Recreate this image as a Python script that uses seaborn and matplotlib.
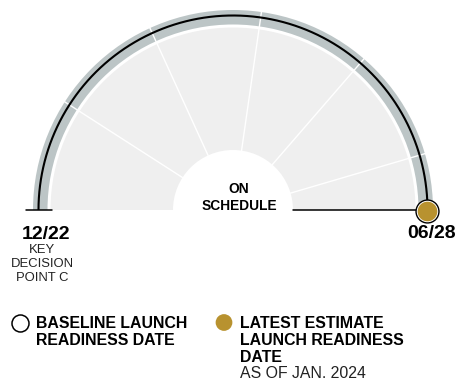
import numpy as np
import pandas as pd
import matplotlib
matplotlib.use("Agg")
import matplotlib.pyplot as plt
from matplotlib.patches import Wedge
import seaborn as sns

# Schedule milestones (year-month)
start_date = "2022-12"
baseline_date = "2028-06"
estimate_date = "2028-06"
year_marks = ["2023-12", "2024-12", "2025-12", "2026-12", "2027-12"]

start_label = "12/22"
start_caption = ["KEY", "DECISION", "POINT C"]
end_label = "06/28"
status_lines = ["ON", "SCHEDULE"]
legend_baseline = ["BASELINE LAUNCH", "READINESS DATE"]
legend_estimate = ["LATEST ESTIMATE", "LAUNCH READINESS", "DATE"]
legend_note = "AS OF JAN. 2024"

GOLD = "#B8922F"
BAND = "#BCC5C6"
FILL = "#EFEFEF"

sns.set_theme(style="white")
plt.rcParams["font.family"] = ["Liberation Sans", "DejaVu Sans"]


def months_from_start(d):
    return (pd.Period(d, "M") - pd.Period(start_date, "M")).n


span = months_from_start(baseline_date)


def angle(d):
    """Gauge angle in degrees: start at 180, baseline at 0."""
    return 180.0 * (1 - months_from_start(d) / span)


def polar(r, deg):
    t = np.deg2rad(deg)
    return r * np.cos(t), r * np.sin(t)


# gauge radii
R_OUT, BAND_W = 200, 14.5
R_FILL, R_HOLE = 182.5, 60
R_LINE = 194.5

W, H = 456, 383
fig = plt.figure(figsize=(W / 100, H / 100), dpi=100)
ax = fig.add_axes([0, 0, 1, 1])
ax.set_xlim(-233, W - 233)
ax.set_ylim(210 - H, 210)
ax.set_aspect("equal")
ax.axis("off")

a0, a1 = angle(start_date), angle(baseline_date)

# outer band and inner filled sector
ax.add_patch(Wedge((0, 0), R_OUT, a1, a0, width=BAND_W, color=BAND, lw=0, zorder=1))
ax.add_patch(Wedge((0, 0), R_FILL, a1, a0, width=R_FILL - R_HOLE, color=FILL, lw=0, zorder=1))

# yearly dividers
for d in year_marks:
    a = angle(d)
    x0, y0 = polar(R_HOLE, a)
    x1, y1 = polar(R_OUT + 1, a)
    ax.plot([x0, x1], [y0, y1], color="white", lw=1.0, zorder=2)

# baseline schedule arc
arc_t = np.linspace(a0, a1, 200)
ax.plot(*polar(R_LINE, arc_t), color="black", lw=1.5, zorder=3, solid_capstyle="butt")

# start tick
ax.plot(*polar(np.array([R_FILL - 1, R_OUT + 7]), a0), color="black", lw=1.1, zorder=3)

# pointer to latest estimate
ae = angle(estimate_date)
ax.plot(*polar(np.array([R_HOLE, R_LINE]), ae), color="black", lw=1.1, zorder=3)

ex, ey = polar(R_LINE, ae)
ey -= 1.5
sns.scatterplot(x=[ex], y=[ey], s=272, color="white", edgecolor="black",
                linewidth=1.0, ax=ax, zorder=4, legend=False)
sns.scatterplot(x=[ex], y=[ey], s=200, color=GOLD, edgecolor="none",
                linewidth=0, ax=ax, zorder=5, legend=False)

# labels (positions in pixel offsets from the gauge centre)
def px(x, y):
    return x - 233, 210 - y

ax.text(*px(46, 239), start_label, ha="center", va="baseline",
        fontsize=14, fontweight="bold", color="black")
for line, yb in zip(start_caption, [253.3, 267.3, 280.7]):
    ax.text(*px(42, yb), line, ha="center", va="baseline", fontsize=9.4, color="#222222")
ax.text(*px(431.5, 238.5), end_label, ha="center", va="baseline",
        fontsize=14, fontweight="bold", color="black")

for line, yb in zip(status_lines, [193.3, 210]):
    ax.text(*px(239, yb), line, ha="center", va="baseline",
            fontsize=9.9, fontweight="bold", color="black")

# legend
lx, ly = px(20, 323)
ax.scatter([lx], [ly], s=150, facecolor="white", edgecolor="black", linewidth=1.1, zorder=5)
gx, gy = px(224, 322.5)
ax.scatter([gx], [gy], s=145, facecolor=GOLD, edgecolor="none", zorder=5)

for line, yb in zip(legend_baseline, [328.3, 345]):
    ax.text(*px(36, yb), line, ha="left", va="baseline",
            fontsize=11.4, fontweight="bold", color="black")
for line, yb in zip(legend_estimate, [328.3, 345, 361.7]):
    ax.text(*px(240, yb), line, ha="left", va="baseline",
            fontsize=11.4, fontweight="bold", color="black")
ax.text(*px(240, 378.3), legend_note, ha="left", va="baseline",
        fontsize=11.4, color="#222222")

fig.savefig("out.png", dpi=100, facecolor="white")
